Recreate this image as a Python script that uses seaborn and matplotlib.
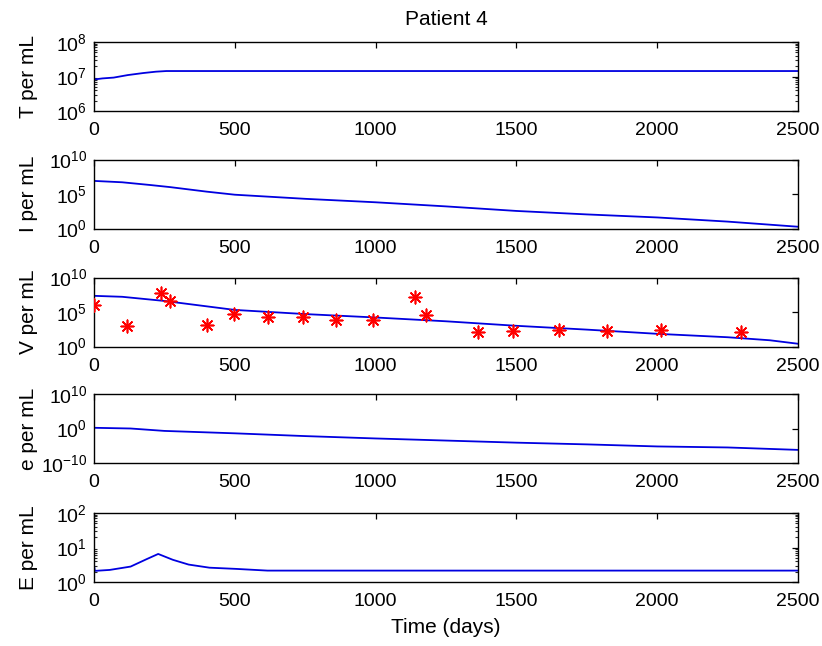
import numpy as np
import pandas as pd
import matplotlib
matplotlib.use("Agg")
import matplotlib.pyplot as plt
import matplotlib.ticker as mticker
import seaborn as sns

# ---------------- data ----------------
title = "Patient 4"
xlabel = "Time (days)"
ylabels = ["T per mL", "I per mL", "V per mL", "e per mL", "E per mL"]
xticks = [0, 500, 1000, 1500, 2000, 2500]

t_days = [0, 30, 70, 120, 175, 220, 257, 2500]
t_vals = [8.2e6, 8.8e6, 9.3e6, 1.1e7, 1.26e7, 1.38e7, 1.44e7, 1.44e7]

i_days = [0, 100, 200, 270, 400, 500, 750, 1000, 1250, 1500, 1750, 2000, 2250, 2500]
i_vals = [7.9e6, 5.0e6, 2.0e6, 1.0e6, 2.2e5, 7.9e4, 2.0e4, 6.3e3, 1.6e3,
          3.5e2, 1.1e2, 4.0e1, 1.0e1, 1.8e0]

v_days = [0, 100, 250, 500, 750, 1000, 1250, 1500, 1750, 2000, 2250, 2400, 2500]
v_vals = [2.2e7, 1.6e7, 4.0e6, 2.0e5, 5.0e4, 1.6e4, 4.5e3, 1.0e3, 2.8e2,
          6.9e1, 2.2e1, 8.0e0, 2.5e0]

obs_days = [0, 116, 237, 270, 403, 496, 618, 743, 858, 992, 1140, 1178,
            1362, 1489, 1650, 1823, 2012, 2297]
obs_vals = [1.1e6, 1.0e3, 5.5e7, 4.2e6, 1.4e3, 4.9e4, 1.8e4, 1.6e4, 7.4e3,
            7.4e3, 1.3e7, 3.2e4, 1.1e2, 1.5e2, 2.1e2, 1.9e2, 2.1e2, 1.1e2]

e_days = [0, 130, 250, 500, 750, 1000, 1250, 1500, 1750, 2000, 2250, 2500]
e_vals = [1.6e0, 1.0e0, 2.0e-1, 4.0e-2, 6.3e-3, 1.3e-3, 3.2e-4, 7.9e-5,
          2.5e-5, 6.3e-6, 3.2e-6, 6.3e-7]

E_days = [0, 3, 56, 130, 187, 228, 280, 336, 410, 504, 616, 2500]
E_vals = [3.1, 2.1, 2.24, 2.8, 4.6, 6.5, 4.4, 3.2, 2.6, 2.4, 2.14, 2.14]

ylims = [(1e6, 1e8), (1e0, 1e10), (1e0, 1e10), (1e-10, 1e10), (1e0, 1e2)]
yticks = [[1e6, 1e7, 1e8], [1e0, 1e5, 1e10], [1e0, 1e5, 1e10],
          [1e-10, 1e0, 1e10], [1e0, 1e1, 1e2]]
minor_on = [True, False, False, False, True]

series = [(t_days, t_vals), (i_days, i_vals), (v_days, v_vals),
          (e_days, e_vals), (E_days, E_vals)]

# ---------------- style ----------------
sns.set_style("white")
plt.rcParams["font.family"] = ["Liberation Sans", "DejaVu Sans"]
plt.rcParams["mathtext.fontset"] = "custom"
plt.rcParams["mathtext.rm"] = "Liberation Sans"
plt.rcParams["mathtext.it"] = "Liberation Sans:italic"
plt.rcParams["mathtext.bf"] = "Liberation Sans:bold"
plt.rcParams["text.color"] = "black"
plt.rcParams["axes.labelcolor"] = "black"

W, H = 822, 646
fig = plt.figure(figsize=(W / 100, H / 100), dpi=100)
fig.patch.set_facecolor("white")

left_px, right_px = 94, 798
tops_px = [42, 159.5, 277.5, 394, 513]
h_px = 69

axes = []
for k in range(5):
    top = tops_px[k]
    ax = fig.add_axes([left_px / W, 1 - (top + h_px) / H,
                       (right_px - left_px) / W, h_px / H])
    ax.set_yscale("log")
    axes.append(ax)

line_color = "#0000e0"
for k, ax in enumerate(axes):
    d, v = series[k]
    df = pd.DataFrame({"day": d, "val": v})
    sns.lineplot(data=df, x="day", y="val", ax=ax, color=line_color,
                 linewidth=1.3, estimator=None, sort=False)
    if k == 2:
        dfo = pd.DataFrame({"day": obs_days, "val": obs_vals})
        sns.scatterplot(data=dfo, x="day", y="val", ax=ax, marker=(8, 2, 0),
                        color="red", edgecolor="red", s=80, linewidth=1.2,
                        zorder=5)
    ax.set_xlim(0, 2500)
    ax.set_ylim(*ylims[k])
    ax.set_xticks(xticks)
    ax.set_xticklabels([str(x) for x in xticks])
    ax.yaxis.set_major_locator(mticker.FixedLocator(yticks[k]))
    ax.yaxis.set_major_formatter(mticker.LogFormatterMathtext())
    if minor_on[k]:
        ax.yaxis.set_minor_locator(mticker.LogLocator(base=10, subs=np.arange(2, 10)))
    else:
        ax.yaxis.set_minor_locator(mticker.NullLocator())
    ax.yaxis.set_minor_formatter(mticker.NullFormatter())
    ax.tick_params(axis="both", which="major", direction="in", length=4.5,
                   width=0.9, top=True, right=True, labelsize=14,
                   colors="black")
    ax.tick_params(axis="x", which="major", pad=8)
    ax.tick_params(axis="y", which="major", pad=5)
    ax.tick_params(axis="y", which="minor", direction="in", length=2.5,
                   width=0.8, left=True, right=True)
    for sp in ax.spines.values():
        sp.set_color("black")
        sp.set_linewidth(1.0)
    ax.set_xlabel("")
    ax.set_ylabel(ylabels[k], fontsize=15, color="black")
    ax.yaxis.set_label_coords(-0.08, 0.5)
    ax.set_facecolor("white")

axes[0].set_title(title, fontsize=15, pad=12, color="black")
axes[4].set_xlabel(xlabel, fontsize=15, labelpad=6, color="black")

fig.savefig("out.png", dpi=100, facecolor="white")
